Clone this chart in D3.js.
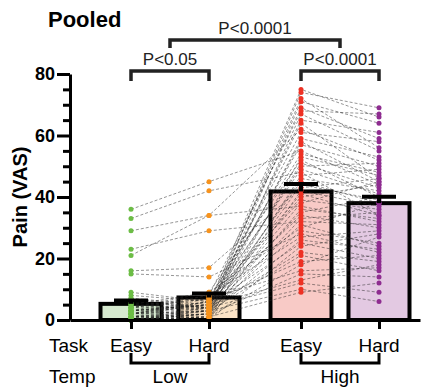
<!DOCTYPE html>
<html>
<head>
<meta charset="utf-8">
<script src="https://cdn.jsdelivr.net/npm/d3@7"></script>
<style>
  body { margin: 0; background: #fff; }
  text { font-family: "Liberation Sans", Arial, Helvetica, sans-serif; }
</style>
</head>
<body>
<script>
// conditions
const temps = ["Low", "High"];
const tasks = ["Easy", "Hard"];

// one value per subject, same subject order in every array
const easyLow  = [2,0,4,1,9,3,0,5,2,21, 1,0,6,3,36,2,0,4,1,7, 2,33,0,5,3,1,16,0,8,2, 4,1,29,0,6,3,1,23,0,5, 2,15,4,0,3,1,7,0,2,1, 4,0,3,1,2,0];
const hardLow  = [5,3,4,2,6,8,1,4,4,34, 6,2,4,5,45,7,0,9,3,5, 6,42,1,3,4,2,17,0,6,5, 7,3,34,2,4,6,1,29,4,9, 3,14,8,2,5,0,4,3,6,1, 7,2,5,4,3,1];
const easyHigh = [75,74,72,71,69,68,67,65,64,62, 61,59,58,57,55,54,53,52,51,50, 49,48,47,46,45,44,43,42,41,40, 39,38,37,36,35,34,33,32,31,30, 29,28,27,26,25,24,22,21,19,18, 16,15,13,12,10,9];
const hardHigh = [66,69,56,64,59,67,55,61,46,52, 58,53,45,50,44,48,47,40,43,51, 41,34,49,42,38,39,46,37,34,44, 36,45,32,33,40,30,35,31,24,38, 25,22,29,23,20,28,19,16,21,27, 17,14,18,9,6,12];

const yTicks = [0, 20, 40, 60, 80];
const pLabels = ["P<0.05", "P<0.0001", "P<0.0001"];

const conds = [
  {temp: "Low",  task: "Easy", vals: easyLow,  fill: "#d6e9cf", dot: "#6cbd45"},
  {temp: "Low",  task: "Hard", vals: hardLow,  fill: "#fbe3c6", dot: "#f7931d"},
  {temp: "High", task: "Easy", vals: easyHigh, fill: "#f8cac6", dot: "#ee3124"},
  {temp: "High", task: "Hard", vals: hardHigh, fill: "#e3c9e2", dot: "#8e2c90"}
];

const svg = d3.select("body").append("svg")
  .attr("width", 434)
  .attr("height", 389);

const y = d3.scaleLinear().domain([0, 80]).range([320, 74]);
const xGroup = d3.scalePoint().domain(temps).range([170, 340]);
const xTask = d3.scalePoint().domain(tasks).range([-39, 39]);
const cx = c => xGroup(c.temp) + xTask(c.task);

conds.forEach(c => {
  c.mean = d3.mean(c.vals);
  c.sem = d3.deviation(c.vals) / Math.sqrt(c.vals.length);
});

// title
svg.append("text")
  .attr("x", 48).attr("y", 27)
  .style("font-size", "22px").style("font-weight", "bold")
  .text("Pooled");

// bars
svg.append("g").selectAll("rect")
  .data(conds)
  .enter()
  .append("rect")
  .attr("x", d => cx(d) - 30.5)
  .attr("y", d => y(d.mean))
  .attr("width", 61)
  .attr("height", d => y(0) - y(d.mean))
  .attr("fill", d => d.fill)
  .attr("stroke", "#000")
  .attr("stroke-width", 4);

// subject lines
const subjects = d3.range(easyLow.length).map(i => conds.map(c => [cx(c), y(c.vals[i])]));
svg.append("g").selectAll("path")
  .data(subjects)
  .enter()
  .append("path")
  .attr("d", d3.line())
  .attr("fill", "none")
  .attr("stroke", "#222")
  .attr("stroke-opacity", 0.6)
  .attr("stroke-width", 0.8)
  .attr("stroke-dasharray", "3,2");

// dots
conds.forEach(c => {
  svg.append("g").selectAll("circle")
    .data(c.vals)
    .enter()
    .append("circle")
    .attr("cx", cx(c))
    .attr("cy", d => y(d))
    .attr("r", 2.5)
    .attr("fill", c.dot);
});

// error bars (mean + SEM)
const eb = svg.append("g").attr("stroke", "#000").attr("stroke-width", 4);
eb.selectAll(".v").data(conds).enter().append("line")
  .attr("x1", d => cx(d)).attr("x2", d => cx(d))
  .attr("y1", d => y(d.mean)).attr("y2", d => y(d.mean + d.sem));
eb.selectAll(".h").data(conds).enter().append("line")
  .attr("x1", d => cx(d) - 17).attr("x2", d => cx(d) + 17)
  .attr("y1", d => y(d.mean + d.sem)).attr("y2", d => y(d.mean + d.sem));

// y axis
const yMinor = d3.range(0, 81, 5).filter(v => v % 20 !== 0);
svg.append("g")
  .attr("transform", "translate(70,0)")
  .call(d3.axisLeft(y).tickValues(yMinor).tickSize(7).tickFormat(""))
  .call(g => g.select(".domain").remove())
  .call(g => g.selectAll("line").attr("stroke", "#000").attr("stroke-width", 3));
svg.append("g")
  .attr("transform", "translate(70,0)")
  .call(d3.axisLeft(y).tickValues(yTicks).tickSize(13).tickSizeOuter(0).tickPadding(2))
  .call(g => g.select(".domain").attr("stroke", "#000").attr("stroke-width", 3))
  .call(g => g.selectAll("line").attr("stroke", "#000").attr("stroke-width", 3))
  .call(g => g.selectAll("text")
    .style("font-family", "'Liberation Sans', Arial, sans-serif")
    .style("font-size", "18px").style("font-weight", "bold").attr("fill", "#000"));

svg.append("text")
  .attr("transform", "translate(27,197) rotate(-90)")
  .attr("text-anchor", "middle")
  .style("font-size", "20px").style("font-weight", "bold")
  .text("Pain (VAS)");

// x axis
const xAxisScale = d3.scaleLinear().domain([70, 420]).range([70, 420]);
svg.append("g")
  .attr("transform", "translate(0," + y(0) + ")")
  .call(d3.axisBottom(xAxisScale).tickValues(conds.map(cx)).tickSize(9).tickSizeOuter(0).tickFormat(""))
  .call(g => g.select(".domain").attr("stroke", "#000").attr("stroke-width", 3))
  .call(g => g.selectAll("line").attr("stroke", "#000").attr("stroke-width", 3));

// category rows
svg.append("text").attr("x", 49).attr("y", 352).style("font-size", "19px").text("Task");
svg.append("text").attr("x", 49).attr("y", 383).style("font-size", "19px").text("Temp");
svg.append("g").selectAll("text")
  .data(conds)
  .enter()
  .append("text")
  .attr("x", d => cx(d)).attr("y", 352)
  .attr("text-anchor", "middle")
  .style("font-size", "19px")
  .text(d => d.task);
const tg = svg.append("g");
temps.forEach(t => {
  const x0 = xGroup(t) + xTask("Easy"), x1 = xGroup(t) + xTask("Hard");
  tg.append("path")
    .attr("d", `M${x0},353V363H${x1}V353`)
    .attr("fill", "none").attr("stroke", "#000").attr("stroke-width", 3);
  tg.append("text")
    .attr("x", xGroup(t)).attr("y", 383)
    .attr("text-anchor", "middle")
    .style("font-size", "19px")
    .text(t);
});

// significance brackets
const brackets = [
  {x0: cx(conds[0]), x1: cx(conds[1]), yLine: 71, drop: 10, label: pLabels[0]},
  {x0: cx(conds[2]), x1: cx(conds[3]), yLine: 71, drop: 10, label: pLabels[2]},
  {x0: xGroup("Low"), x1: xGroup("High"), yLine: 40, drop: 8, label: pLabels[1]}
];
const bg = svg.append("g");
brackets.forEach(b => {
  bg.append("path")
    .attr("d", `M${b.x0},${b.yLine + b.drop}V${b.yLine}H${b.x1}V${b.yLine + b.drop}`)
    .attr("fill", "none").attr("stroke", "#222").attr("stroke-width", 3.5);
  bg.append("text")
    .attr("x", (b.x0 + b.x1) / 2).attr("y", b.yLine - 6)
    .attr("text-anchor", "middle")
    .style("font-size", "17px").attr("fill", "#222")
    .text(b.label);
});
</script>
</body>
</html>
